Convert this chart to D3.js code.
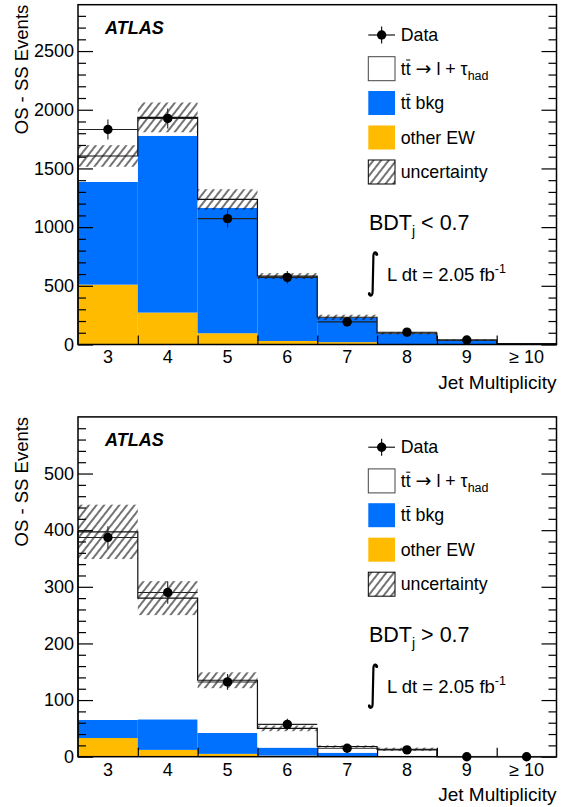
<!DOCTYPE html>
<html>
<head>
<meta charset="utf-8">
<script src="https://cdn.jsdelivr.net/npm/d3@7"></script>
<style>
  body { margin: 0; background: #fff; }
  svg text { font-family: "Liberation Sans", Arial, Helvetica, sans-serif; fill: #000; }
</style>
</head>
<body>
<svg id="svg" width="574" height="807"></svg>
<script>
const bins = ["3", "4", "5", "6", "7", "8", "9", "\u2265 10"];

// BDT_j < 0.7 (upper panel)
const lowEW      = [510, 272, 96, 30, 20, 3, 1, 0];
const lowBkg     = [876, 1506, 1069, 542, 208, 87, 35, 8];
const lowSig     = [220, 157, 71, 11, 4, 7, 2, 0];
const lowUnc     = [92, 127, 87, 25, 22, 10, 6, 3];
const lowData    = [1832, 1926, 1072, 572, 193, 105, 38, null];
const lowDataErr = [85, 85, 75, 55, 40, 30, 20, null];

// BDT_j > 0.7 (lower panel)
const highEW      = [33, 12, 5, 2, 1, 0, 0, 0];
const highBkg     = [32, 54, 37, 14, 6, 1, 0, 0];
const highSig     = [332, 214, 93, 34, 11, 12, 0, 0];
const highUnc     = [48, 30, 14, 5, 2, 3, 0, 0];
const highData    = [387, 290, 132, 57, 15, 12, 0, 0];
const highDataErr = [20, 20, 14, 10, 6, 5, 2, 2];

const colors = {ew: "#ffbb00", bkg: "#0070ff", sig: "#ffffff"};

const svg = d3.select("#svg");

// hatching for the uncertainty band
svg.append("defs")
    .append("pattern")
    .attr("id", "hatch")
    .attr("patternUnits", "userSpaceOnUse")
    .attr("width", 6)
    .attr("height", 10)
    .attr("patternTransform", "rotate(38)")
    .append("line")
    .attr("x1", 3).attr("x2", 3)
    .attr("y1", 0).attr("y2", 10)
    .attr("stroke", "#000")
    .attr("stroke-width", 1.1);

drawPanel(0, {ew: lowEW, bkg: lowBkg, sig: lowSig, unc: lowUnc, data: lowData, err: lowDataErr},
    {ymax: 2895, major: 500, minor: 100, cut: "<"});
drawPanel(412.2, {ew: highEW, bkg: highBkg, sig: highSig, unc: highUnc, data: highData, err: highDataErr},
    {ymax: 600, major: 100, minor: 20, cut: ">"});

function drawPanel(off, h, {ymax, major, minor, cut}) {
    const left = 78, right = 556.5, top = 4.7 + off, bottom = 344.5 + off;

    const g = svg.append("g");

    const x = d3.scaleBand(bins, [left, right]);
    const xEdge = d3.scaleLinear([0, bins.length], [left, right]);
    const y = d3.scaleLinear([0, ymax], [bottom, top]);

    const rows = bins.map((b, i) => ({bin: b, ew: h.ew[i], bkg: h.bkg[i], sig: h.sig[i]}));
    const total = rows.map(r => r.ew + r.bkg + r.sig);
    const series = d3.stack().keys(["ew", "bkg", "sig"])(rows);

    g.append("g")
        .selectAll("g")
        .data(series)
        .join("g")
        .attr("fill", d => colors[d.key])
        .selectAll("rect")
        .data(d => d)
        .join("rect")
        .attr("x", d => x(d.data.bin))
        .attr("width", x.bandwidth())
        .attr("y", d => y(d[1]))
        .attr("height", d => y(d[0]) - y(d[1]));

    // uncertainty band
    g.append("g")
        .selectAll("rect")
        .data(bins.map((b, i) => ({bin: b, lo: Math.max(total[i] - h.unc[i], 0), hi: total[i] + h.unc[i]})))
        .join("rect")
        .attr("x", d => x(d.bin))
        .attr("width", x.bandwidth())
        .attr("y", d => y(d.hi))
        .attr("height", d => y(d.lo) - y(d.hi))
        .attr("fill", "url(#hatch)");

    // outline of the total prediction
    const pts = [[left, y(0)]]
        .concat(bins.map((b, i) => [x(b), y(total[i])]))
        .concat([[right, y(0)]]);
    g.append("path")
        .attr("d", d3.line().curve(d3.curveStepAfter)(pts))
        .attr("fill", "none")
        .attr("stroke", "#111")
        .attr("stroke-width", 1.2);

    // axes
    const fontSize = 18;
    const majorTicks = d3.range(0, ymax, major);
    const minorTicks = d3.range(0, ymax, minor).filter(v => v % major !== 0);

    const yAxis = g.append("g").attr("transform", `translate(${left},0)`)
        .call(d3.axisLeft(y).tickValues(majorTicks).tickFormat(d3.format("d"))
            .tickSize(-15).tickSizeOuter(0).tickPadding(4));
    g.append("g").attr("transform", `translate(${left},0)`)
        .call(d3.axisLeft(y).tickValues(minorTicks).tickSize(-8).tickSizeOuter(0).tickFormat(""));
    g.append("g").attr("transform", `translate(${right},0)`)
        .call(d3.axisRight(y).tickValues(majorTicks).tickSize(-15).tickSizeOuter(0).tickFormat(""));
    g.append("g").attr("transform", `translate(${right},0)`)
        .call(d3.axisRight(y).tickValues(minorTicks).tickSize(-8).tickSizeOuter(0).tickFormat(""));

    const xAxis = g.append("g").attr("transform", `translate(0,${bottom})`)
        .call(d3.axisBottom(x).tickSize(0).tickPadding(6.2));
    g.append("g").attr("transform", `translate(0,${bottom})`)
        .call(d3.axisBottom(xEdge).tickValues(d3.range(1, bins.length)).tickSize(-9).tickSizeOuter(0).tickFormat(""));

    g.selectAll(".domain").remove();
    g.selectAll(".tick line").attr("stroke", "#000").attr("stroke-width", 1.2);
    [yAxis, xAxis].forEach(a => a.selectAll("text")
        .attr("font-size", fontSize)
        .attr("font-family", "'Liberation Sans', Arial, sans-serif"));

    // frame
    g.append("rect")
        .attr("x", left).attr("y", top)
        .attr("width", right - left).attr("height", bottom - top)
        .attr("fill", "none")
        .attr("stroke", "#000")
        .attr("stroke-width", 1.5);

    // data
    const pts2 = bins.map((b, i) => ({bin: b, v: h.data[i], e: h.err[i]})).filter(d => d.v !== null);
    const dg = g.append("g");
    dg.selectAll("line.ex")
        .data(pts2)
        .join("line")
        .attr("x1", d => x(d.bin)).attr("x2", d => x(d.bin) + x.bandwidth())
        .attr("y1", d => y(d.v)).attr("y2", d => y(d.v))
        .attr("stroke", "#222").attr("stroke-width", 1.1);
    dg.selectAll("line.ey")
        .data(pts2)
        .join("line")
        .attr("x1", d => x(d.bin) + x.bandwidth() / 2).attr("x2", d => x(d.bin) + x.bandwidth() / 2)
        .attr("y1", d => y(d.v + d.e)).attr("y2", d => y(Math.max(d.v - d.e, 0)))
        .attr("stroke", "#222").attr("stroke-width", 1.1);
    dg.selectAll("circle")
        .data(pts2)
        .join("circle")
        .attr("cx", d => x(d.bin) + x.bandwidth() / 2)
        .attr("cy", d => y(d.v))
        .attr("r", 4.7)
        .attr("fill", "#000");

    // axis titles
    g.append("text")
        .attr("transform", `translate(28.3,${top}) rotate(-90)`)
        .attr("text-anchor", "end")
        .attr("font-size", 18.5)
        .text("OS - SS Events");
    g.append("text")
        .attr("x", right)
        .attr("y", bottom + 44.2)
        .attr("text-anchor", "end")
        .attr("font-size", 19)
        .text("Jet Multiplicity");

    g.append("text")
        .attr("x", 105)
        .attr("y", 34 + off)
        .attr("font-size", 18)
        .attr("font-weight", "bold")
        .attr("font-style", "italic")
        .text("ATLAS");

    // legend
    const lx = 368.3, lw = 26.7, tx = 400.7;
    const ly = [35, 68.7, 103, 137.5, 172].map(v => v + off);
    const lg = g.append("g").attr("font-size", 17.8);

    lg.append("line").attr("x1", lx).attr("x2", lx + lw).attr("y1", ly[0]).attr("y2", ly[0])
        .attr("stroke", "#000").attr("stroke-width", 1.1);
    lg.append("line").attr("x1", lx + lw / 2).attr("x2", lx + lw / 2).attr("y1", ly[0] - 8.5).attr("y2", ly[0] + 8.5)
        .attr("stroke", "#000").attr("stroke-width", 1.1);
    lg.append("circle").attr("cx", lx + lw / 2).attr("cy", ly[0]).attr("r", 4.7).attr("fill", "#000");
    lg.append("text").attr("x", tx).attr("y", ly[0] + 6).text("Data");

    const boxes = [
        {fill: colors.sig, stroke: "#444"},
        {fill: colors.bkg, stroke: "none"},
        {fill: colors.ew, stroke: "none"},
        {fill: "url(#hatch)", stroke: "#000"}
    ];
    lg.selectAll("rect")
        .data(boxes)
        .join("rect")
        .attr("x", lx)
        .attr("y", (d, i) => ly[i + 1] - 12)
        .attr("width", lw)
        .attr("height", 24)
        .attr("fill", d => d.fill)
        .attr("stroke", d => d.stroke)
        .attr("stroke-width", 1);

    const sigText = lg.append("text").attr("x", tx).attr("y", ly[1] + 6);
    sigText.append("tspan").text("tt ");
    sigText.append("tspan").attr("font-family", "'DejaVu Sans'").attr("font-size", 19).text("\u2192");
    sigText.append("tspan").text(" l + \u03c4");
    sigText.append("tspan").attr("font-size", 12.5).attr("dy", 5).text("had");
    const bkgText = lg.append("text").attr("x", tx).attr("y", ly[2] + 6).text("tt bkg");
    lg.append("text").attr("x", tx).attr("y", ly[3] + 6).text("other EW");
    lg.append("text").attr("x", tx).attr("y", ly[4] + 6).text("uncertainty");

    // bar over the second t
    [[sigText, ly[1]], [bkgText, ly[2]]].forEach(([t, cy]) => {
        const n = t.node();
        const x0 = n.getStartPositionOfChar(1).x, x1 = n.getEndPositionOfChar(1).x;
        lg.append("line")
            .attr("x1", x0 + 0.5).attr("x2", x1 - 0.3)
            .attr("y1", cy - 8.7).attr("y2", cy - 8.7)
            .attr("stroke", "#000").attr("stroke-width", 1);
    });

    // selection and luminosity
    const bdt = g.append("text").attr("x", 369).attr("y", 230 + off).attr("font-size", 21.5);
    bdt.append("tspan").text("BDT");
    bdt.append("tspan").attr("font-size", 14).attr("dy", 6).text("j");
    bdt.append("tspan").attr("dy", -6).text(` ${cut} 0.7`);

    const iy0 = 252 + off, iy1 = 296 + off;
    const ip = d3.path();
    ip.moveTo(377, iy0 + 2.5);
    ip.bezierCurveTo(376.5, iy0 - 0.5, 373.6, iy0 - 0.5, 373.4, iy0 + 4);
    ip.lineTo(372.6, iy1 - 4);
    ip.bezierCurveTo(372.4, iy1 + 0.5, 369.5, iy1 + 0.5, 369, iy1 - 2.5);
    g.append("path").attr("d", ip.toString())
        .attr("fill", "none").attr("stroke", "#000").attr("stroke-width", 2.2).attr("stroke-linecap", "round");
    g.append("circle").attr("cx", 376.6).attr("cy", iy0 + 2.3).attr("r", 1.5);
    g.append("circle").attr("cx", 369.4).attr("cy", iy1 - 2.3).attr("r", 1.5);

    const lumi = g.append("text").attr("x", 387).attr("y", 280.7 + off).attr("font-size", 18.5);
    lumi.append("tspan").text("L dt = 2.05 fb");
    lumi.append("tspan").attr("font-size", 12.5).attr("dy", -8).text("-1");
}
</script>
</body>
</html>
